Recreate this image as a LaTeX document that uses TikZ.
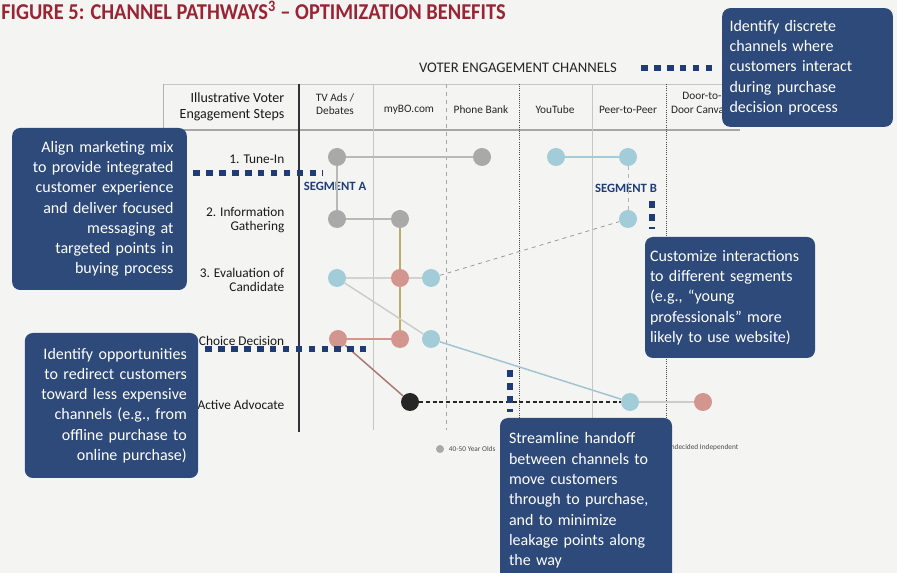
\documentclass[tikz,border=0pt]{standalone}
\usepackage{fontspec}
\setmainfont{Carlito}
\usepackage{graphicx}
\usetikzlibrary{positioning}

\definecolor{calloutblue}{HTML}{2D4A7A}
\definecolor{dotblue}{HTML}{1F3C78}
\definecolor{titlered}{HTML}{9A2433}
\definecolor{paper}{HTML}{F4F4F2}
\definecolor{grayvoter}{HTML}{A9A9A9}
\definecolor{bluevoter}{HTML}{A3CCD9}
\definecolor{redvoter}{HTML}{D3968F}
\definecolor{olivelink}{HTML}{B9AD6C}

\begin{document}
\begin{tikzpicture}[x=0.75pt,y=-0.75pt]
		\tikzstyle{callout}=[fill=calloutblue, text=white, rounded corners=6pt, font=\fontsize{12}{15.2}\selectfont, inner ysep=0pt]
		\tikzstyle{step_label}=[anchor=east, align=right, text=black!90, font=\fontsize{10}{11}\selectfont]
		\tikzstyle{channel}=[align=center, text=black!85, font=\fontsize{8.5}{10}\selectfont]
		\tikzstyle{segment}=[text=dotblue, font=\fontsize{9.5}{11}\selectfont\bfseries]
		\tikzstyle{voter}=[circle, minimum size=13.5pt, inner sep=0pt]
		\tikzstyle{gray_voter}=[voter, fill=grayvoter]
		\tikzstyle{blue_voter}=[voter, fill=bluevoter]
		\tikzstyle{red_voter}=[voter, fill=redvoter]
		\tikzstyle{black_voter}=[voter, fill=black!85]
		\tikzstyle{link}=[line width=1.1pt]
		\tikzstyle{dotlink}=[draw=dotblue, line width=4pt, dash pattern=on 5pt off 4.7pt]

		\useasboundingbox (0,0) rectangle (897,573);
		\clip (0,0) rectangle (897,573);
		\fill[paper] (0,0) rectangle (897,573);

		% title
		\node [anchor=base west, inner sep=0pt, text=titlered, font=\fontsize{17}{17}\selectfont\bfseries] (title) at (1,20)
			{\scalebox{0.9}[1]{FIGURE 5: CHANNEL PATHWAYS\textsuperscript{3} -- OPTIMIZATION BENEFITS}};

		% table grid
		\draw [gray!45, line width=0.6pt] (163,84) -- (740,84);
		\draw [gray!70, line width=0.8pt] (163,130) -- (740,130);
		\draw [gray!60, line width=0.6pt] (163,84) -- (163,128);
		\draw [black!80, line width=0.9pt] (299,84) -- (299,432);
		\draw [gray!45, line width=0.6pt] (373,84) -- (373,430);
		\draw [gray!70, line width=0.6pt, dashed] (446,84) -- (446,430);
		\draw [black!70, line width=0.6pt, densely dotted] (519,84) -- (519,430);
		\draw [gray!45, line width=0.6pt] (592,84) -- (592,430);
		\draw [black!70, line width=0.6pt, densely dotted] (666,84) -- (666,430);

		\node [text=black!85, font=\fontsize{11}{13}\selectfont] (channels) at (518,68) {VOTER ENGAGEMENT CHANNELS};

		% header row
		\node [step_label, font=\fontsize{10.5}{12.5}\selectfont] (steps) at (289,107) {Illustrative Voter\\Engagement Steps};
		\node [channel] (tv) at (335,104) {TV Ads /\\Debates};
		\node [channel] (mybo) at (409,110) {myBO.com};
		\node [channel] (phone) at (481,110) {Phone Bank};
		\node [channel] (youtube) at (555,110) {YouTube};
		\node [channel] (peer) at (628,110) {Peer-to-Peer};
		\node [channel] (door) at (702,103) {Door-to-\\Door Canvass};

		% engagement steps
		\node [step_label] (tunein) at (289,159) {1. Tune-In};
		\node [step_label] (info) at (289,220) {2. Information\\Gathering};
		\node [step_label] (eval) at (289,280) {3. Evaluation of\\Candidate};
		\node [step_label] (choice) at (289,341) {4. Choice Decision};
		\node [step_label] (advocate) at (289,405) {5. Active Advocate};

		\node [segment] (segA) at (335,186) {SEGMENT A};
		\node [segment] (segB) at (626,188) {SEGMENT B};

		% voters
		\node [gray_voter] (tuneTV) at (337,157) {};
		\node [gray_voter] (tunePB) at (482,157) {};
		\node [blue_voter] (tuneYT) at (556,157) {};
		\node [blue_voter] (tunePP) at (628,157) {};
		\node [gray_voter] (infoTV) at (337,219) {};
		\node [gray_voter] (infoBO) at (400,219) {};
		\node [blue_voter] (infoPP) at (628,219) {};
		\node [blue_voter] (evalTV) at (337,278) {};
		\node [red_voter] (evalBO) at (400,278) {};
		\node [blue_voter] (evalBOb) at (431,278) {};
		\node [red_voter] (choiceTV) at (338,339) {};
		\node [red_voter] (choiceBO) at (400,339) {};
		\node [blue_voter] (choiceBOb) at (431,339) {};
		\node [black_voter] (advBO) at (410,402) {};
		\node [blue_voter] (advPP) at (630,402) {};
		\node [red_voter] (advDoor) at (703,402) {};

		% pathways
		\draw [link, gray!55] (tuneTV) -- (tunePB);
		\draw [link, gray!55] (tuneTV) -- (infoTV);
		\draw [link, gray!55] (infoTV) -- (infoBO);
		\draw [link, olivelink] (infoBO) -- (evalBO);
		\draw [link, olivelink] (evalBO) -- (choiceBO);
		\draw [link, gray!35] (evalTV) -- (evalBO);
		\draw [link, gray!35] (evalBO) -- (evalBOb);
		\draw [link, gray!40] (evalTV) -- (choiceBOb);
		\draw [link, redvoter] (choiceTV) -- (choiceBO);
		\draw [link, redvoter!80!black] (choiceTV) -- (advBO);
		\draw [line width=0.8pt, black!85, densely dashed] (advBO) -- (advPP);
		\draw [link, bluevoter!90!gray] (choiceBOb) -- (advPP);
		\draw [link, gray!40] (advPP) -- (advDoor);
		\draw [line width=0.6pt, gray!80, dashed] (evalBOb) -- (infoPP);
		\draw [link, bluevoter] (tuneYT) -- (tunePP);
		\draw [line width=0.6pt, gray!60, dashed] (tunePP) -- (infoPP);

		% legend
		\node [circle, fill=grayvoter, minimum size=6pt, inner sep=0pt] (legendGray) at (440,449) {};
		\node [anchor=west, text=black!70, font=\fontsize{5.5}{6}\selectfont] (legendAge) at (legendGray.east) {40-50 Year Olds};
		\node [anchor=east, text=black!70, font=\fontsize{5.5}{6}\selectfont] (legendIndep) at (743,448) {Undecided Independent};

		% callouts
		\node [callout, align=left, text width=117pt, inner xsep=5.5pt, minimum height=89pt] (discrete) at (807.5,67.5)
			{Identify discrete\\channels where\\customers interact\\during purchase\\decision process};
		\node [callout, align=right, text width=111pt, inner xsep=10pt, minimum height=121.5pt] (align) at (99.5,209)
			{Align marketing mix\\to provide integrated\\customer experience\\and deliver focused\\messaging at\\targeted points in\\buying process};
		\node [callout, align=left, text width=120pt, inner xsep=3.75pt, minimum height=90.75pt] (customize) at (730,297.5)
			{Customize interactions\\to different segments\\(e.g., ``young\\professionals'' more\\likely to use website)};
		\node [callout, align=right, text width=113pt, inner xsep=8.5pt, minimum height=108.75pt] (redirect) at (111.5,405.5)
			{Identify opportunities\\to redirect customers\\toward less expensive\\channels (e.g., from\\offline purchase to\\online purchase)};
		\node [callout, align=left, text width=115.5pt, inner xsep=6.75pt, minimum height=123.75pt] (handoff) at (586,500.5)
			{Streamline handoff\\between channels to\\move customers\\through to purchase,\\and to minimize\\leakage points along\\the way};

		% dotted leaders
		\coordinate (channelsEnd) at (641,68);
		\coordinate (alignEnd) at (323,173);
		\coordinate (segBEnd) at (652,201);
		\coordinate (redirectEnd) at (366,349);
		\coordinate (handoffEnd) at (510,370);
		\draw [dotlink, shorten >=5pt] (channelsEnd) -- (channelsEnd -| discrete.west);
		\draw [dotlink, shorten <=4.5pt] (align.east |- alignEnd) -- (alignEnd);
		\draw [dotlink, shorten >=6pt] (segBEnd) -- (segBEnd |- customize.north);
		\draw [dotlink, shorten <=5pt] (redirect.east |- redirectEnd) -- (redirectEnd);
		\draw [dotlink, shorten >=4pt] (handoffEnd) -- (handoffEnd |- handoff.north);
	\end{tikzpicture}
\end{document}
